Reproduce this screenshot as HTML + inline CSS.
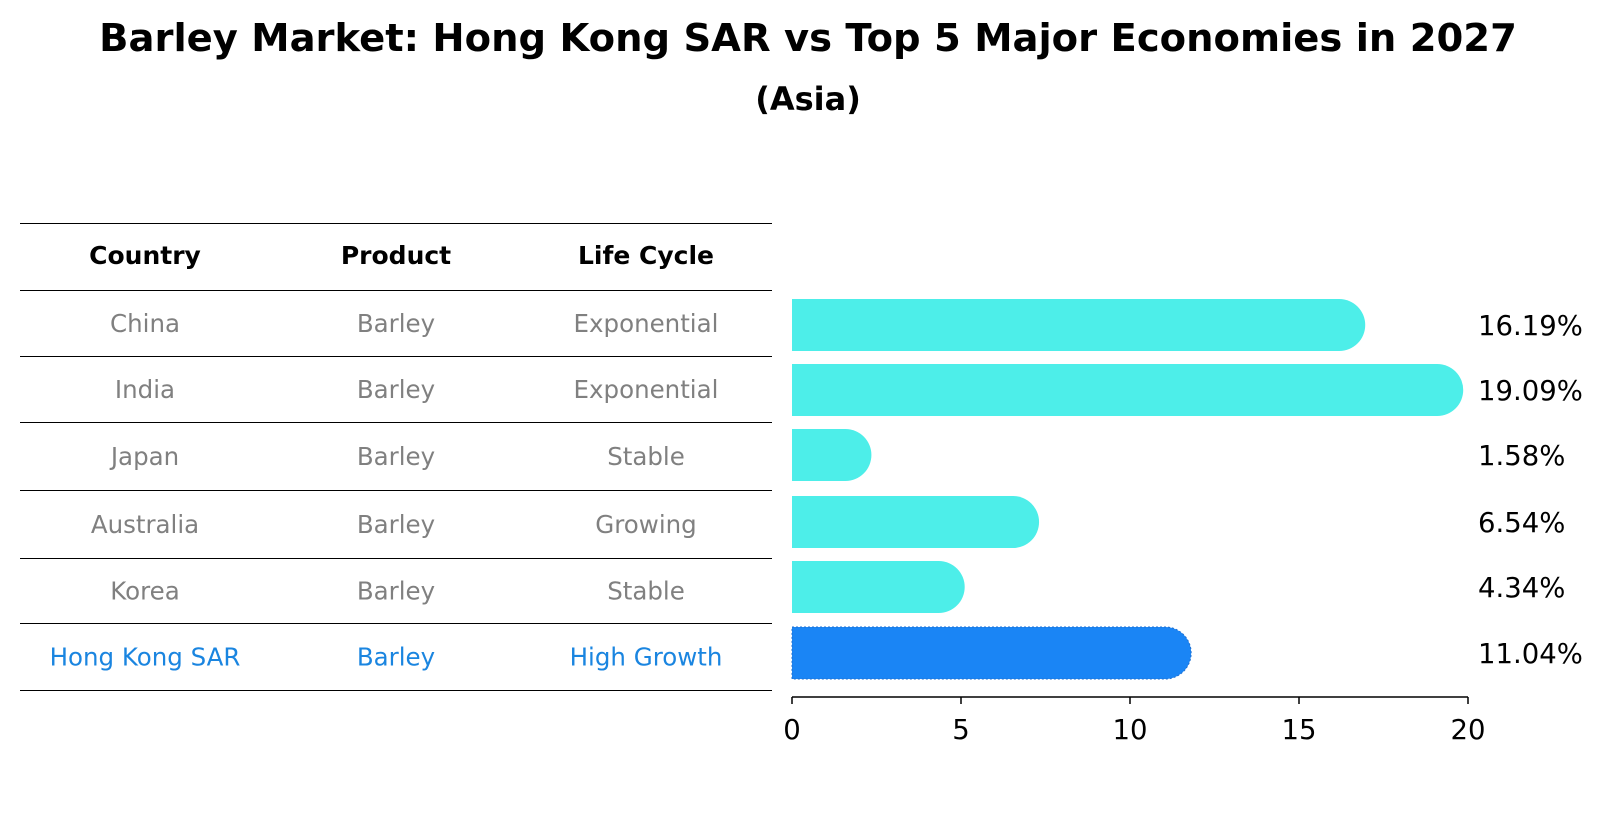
<!DOCTYPE html>
<html><head><meta charset="utf-8"><style>
body{margin:0;background:#fff;font-family:"DejaVu Sans","Liberation Sans",sans-serif;}
</style></head><body>
<svg width="1604" height="823" xmlns="http://www.w3.org/2000/svg" font-family="DejaVu Sans, Liberation Sans, sans-serif">
<text x="808" y="51" text-anchor="middle" font-size="38.5" font-weight="bold">Barley Market: Hong Kong SAR vs Top 5 Major Economies in 2027</text>
<text x="808" y="110" text-anchor="middle" font-size="32" font-weight="bold">(Asia)</text>
<g id="table"></g>
<g id="bars"></g>
</svg>
<script>
const countries=["China","India","Japan","Australia","Korea","Hong Kong SAR"];
const products=["Barley","Barley","Barley","Barley","Barley","Barley"];
const lifeCycles=["Exponential","Exponential","Stable","Growing","Stable","High Growth"];
const values=[16.19,19.09,1.58,6.54,4.34,11.04];
const ticks=[0,5,10,15,20];
const NS="http://www.w3.org/2000/svg";
function mk(tag,attrs,parent,txt){const e=document.createElementNS(NS,tag);for(const k in attrs)e.setAttribute(k,attrs[k]);if(txt!==undefined)e.textContent=txt;parent.appendChild(e);return e;}
const tbl=document.getElementById('table'),bars=document.getElementById('bars');
const lines=[223,290,356,422,490,558,623,690];
const cols=[145,396,646];
lines.forEach(y=>{const l=mk('line',{x1:20,x2:772,y1:y+0.5,y2:y+0.5,stroke:'#000','stroke-width':1},tbl);});
["Country","Product","Life Cycle"].forEach((h,i)=>{const t=mk('text',{x:cols[i],y:264,'text-anchor':'middle','font-size':25,'font-weight':'bold'},tbl,h);});
const rowY=i=>(lines[i+1]+lines[i+2])/2+9;
countries.forEach((c,i)=>{const col=i===5?'#1a85e0':'#808080';[c,products[i],lifeCycles[i]].forEach((v,j)=>{const t=mk('text',{x:cols[j],y:rowY(i),'text-anchor':'middle','font-size':24.5,fill:col},tbl,v);});});
const x0=792,x1=1468,xs=v=>x0+(v-0)/(20-0)*(x1-x0);
const centers=[325,390,455,522,587,653],bh=52;
values.forEach((v,i)=>{const cy=centers[i],top=cy-bh/2,r=bh/2,xe=xs(v);const hk=i===5;
const p=mk('path',{d:`M${x0},${top} L${xe},${top} A${r},${r} 0 0 1 ${xe},${top+bh} L${x0},${top+bh} Z`,fill:hk?'#1a85f5':'#4deee9',stroke:hk?'#1f6fd0':'none','stroke-dasharray':hk?'2,2':'none'},bars);

const t=mk('text',{x:1478,y:cy+10,'font-size':27.5},bars,v.toFixed(2)+'%');});
const ax=mk('line',{x1:x0,x2:x1,y1:697,y2:697,stroke:'#000','stroke-width':1.5},bars);
ticks.forEach(t=>{const x=xs(t);const l=mk('line',{x1:x,x2:x,y1:697,y2:704,stroke:'#000','stroke-width':1.5},bars);
const tx=mk('text',{x:x,y:739,'text-anchor':'middle','font-size':27.5},bars,String(t));});
</script>
</body></html>
